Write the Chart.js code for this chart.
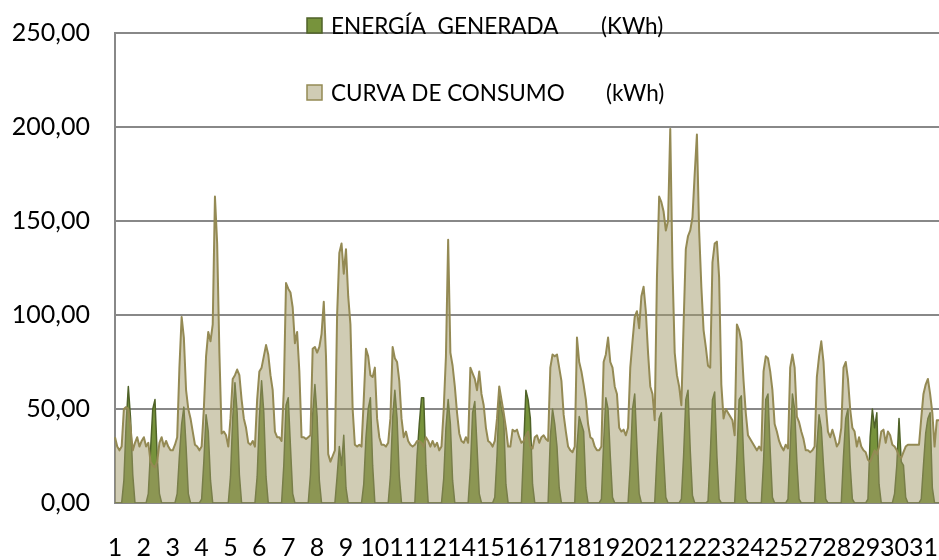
<!DOCTYPE html>
<html lang="es">
<head>
<meta charset="utf-8">
<title>Energía generada y curva de consumo</title>
<script src="https://cdn.jsdelivr.net/npm/chart.js@4.4.1/dist/chart.umd.min.js"></script>
<style>
  html, body { margin: 0; padding: 0; background: #fff; }
  #contenedor { position: relative; width: 939px; height: 560px; }
</style>
</head>
<body>
<div id="contenedor"><canvas id="grafico"></canvas></div>
<script>
// días del mes y horas leídas (cada 2 horas)
const dias = Array.from({ length: 31 }, (_, i) => i + 1);
const horas = [0, 2, 4, 6, 8, 10, 12, 14, 16, 18, 20, 22];

// ENERGÍA GENERADA (KWh), una fila por día
const generada = [
  [0, 0, 0, 0, 12, 42, 62, 45, 15, 0, 0, 0],
  [0, 0, 0, 5, 28, 50, 55, 25, 5, 0, 0, 0],
  [0, 0, 0, 0, 5, 25, 42, 51, 30, 5, 0, 0],
  [0, 0, 0, 2, 22, 47, 38, 12, 0, 0, 0, 0],
  [0, 0, 0, 0, 14, 45, 64, 48, 15, 0, 0, 0],
  [0, 0, 0, 0, 14, 45, 65, 48, 14, 0, 0, 0],
  [0, 0, 0, 0, 20, 52, 56, 30, 5, 0, 0, 0],
  [0, 0, 0, 0, 15, 47, 63, 46, 12, 0, 0, 0],
  [0, 0, 0, 0, 14, 30, 20, 36, 8, 0, 0, 0],
  [0, 0, 0, 0, 10, 35, 50, 56, 20, 0, 0, 0],
  [0, 0, 0, 0, 14, 45, 60, 45, 14, 0, 0, 0],
  [0, 0, 0, 0, 25, 42, 56, 56, 20, 0, 0, 0],
  [0, 0, 0, 0, 13, 40, 55, 42, 12, 0, 0, 0],
  [0, 0, 0, 0, 18, 48, 54, 30, 5, 0, 0, 0],
  [0, 0, 0, 3, 25, 57, 50, 45, 10, 0, 0, 0],
  [0, 0, 0, 0, 30, 60, 55, 45, 10, 0, 0, 0],
  [0, 0, 0, 0, 35, 50, 42, 30, 8, 0, 0, 0],
  [0, 0, 0, 0, 30, 46, 42, 38, 8, 0, 0, 0],
  [0, 0, 0, 2, 32, 56, 50, 25, 3, 0, 0, 0],
  [0, 0, 0, 0, 20, 50, 58, 30, 5, 0, 0, 0],
  [0, 0, 0, 0, 25, 45, 48, 25, 3, 0, 0, 0],
  [0, 0, 0, 2, 25, 55, 60, 28, 4, 0, 0, 0],
  [0, 0, 0, 1, 25, 55, 59, 25, 2, 0, 0, 0],
  [0, 0, 0, 0, 25, 55, 57, 25, 2, 0, 0, 0],
  [0, 0, 0, 0, 22, 55, 58, 28, 3, 0, 0, 0],
  [0, 0, 0, 2, 30, 58, 50, 22, 2, 0, 0, 0],
  [0, 0, 0, 0, 30, 47, 40, 20, 2, 0, 0, 0],
  [0, 0, 0, 0, 25, 45, 50, 20, 2, 0, 0, 0],
  [0, 0, 0, 2, 35, 50, 40, 48, 10, 0, 0, 0],
  [0, 0, 0, 5, 20, 45, 22, 20, 3, 0, 0, 0],
  [0, 0, 0, 2, 20, 37, 45, 48, 8, 0, 0, 0]
];

// CURVA DE CONSUMO (kWh), una fila por día
const consumo = [
  [35, 30, 28, 30, 50, 51, 50, 40, 28, 32, 35, 30],
  [33, 35, 30, 32, 22, 20, 19, 22, 32, 35, 30, 33],
  [30, 28, 28, 31, 35, 72, 99, 88, 60, 50, 45, 38],
  [31, 30, 28, 30, 50, 78, 91, 86, 95, 163, 138, 80],
  [37, 38, 36, 30, 45, 66, 68, 71, 68, 55, 45, 40],
  [32, 31, 33, 30, 55, 70, 72, 78, 84, 79, 68, 60],
  [38, 35, 35, 33, 60, 117, 114, 112, 104, 85, 91, 70],
  [35, 35, 34, 35, 36, 82, 83, 80, 83, 90, 107, 78],
  [26, 22, 25, 28, 100, 133, 138, 122, 135, 110, 95, 50],
  [31, 30, 31, 30, 55, 82, 78, 68, 67, 72, 45, 35],
  [31, 31, 30, 32, 45, 83, 77, 75, 65, 45, 35, 38],
  [33, 31, 30, 31, 33, 33, 32, 30, 35, 33, 30, 33],
  [30, 32, 28, 30, 50, 78, 140, 80, 73, 62, 48, 37],
  [33, 32, 35, 32, 72, 69, 66, 60, 70, 58, 52, 40],
  [33, 32, 30, 33, 45, 62, 55, 48, 40, 30, 30, 39],
  [38, 39, 35, 32, 33, 36, 38, 30, 29, 35, 36, 32],
  [35, 36, 34, 33, 72, 79, 78, 79, 72, 65, 47, 38],
  [30, 28, 27, 30, 88, 75, 70, 63, 55, 42, 35, 34],
  [30, 28, 28, 30, 75, 79, 88, 75, 72, 62, 58, 40],
  [38, 39, 36, 40, 72, 86, 99, 102, 93, 110, 115, 102],
  [80, 62, 58, 44, 120, 163, 160, 155, 145, 150, 199, 125],
  [80, 68, 62, 52, 95, 135, 142, 145, 152, 175, 196, 145],
  [115, 92, 83, 73, 72, 128, 138, 139, 120, 63, 45, 50],
  [48, 46, 44, 36, 95, 92, 86, 65, 48, 36, 34, 32],
  [30, 28, 30, 28, 70, 78, 77, 70, 60, 42, 38, 33],
  [30, 28, 31, 29, 72, 79, 72, 46, 43, 38, 34, 28],
  [28, 27, 28, 30, 67, 78, 86, 75, 52, 38, 35, 39],
  [35, 30, 32, 40, 72, 75, 66, 50, 40, 38, 30, 35],
  [30, 28, 27, 23, 22, 25, 28, 26, 30, 38, 39, 32],
  [38, 36, 31, 30, 28, 25, 24, 27, 30, 31, 31, 31],
  [31, 31, 31, 45, 58, 63, 66, 58, 48, 30, 44, 44]
];

const nombresSeries = ["ENERGÍA  GENERADA", "CURVA DE CONSUMO"];
const unidades = ["(KWh)", "(kWh)"];

// Excel pone una etiqueta cada 26 horas (13 puntos), por eso faltan el 13 y el 26
const intervaloEtiquetas = 13;

const etiquetas = dias.flatMap((d) => horas.map(() => String(d)));
const datosGenerada = generada.flat();
const datosConsumo = consumo.flat();

Chart.defaults.font.family = "Lato, 'DejaVu Sans', sans-serif";
Chart.defaults.color = "#000";

// leyenda dibujada a mano dentro del grafico, como en el original
const leyenda = {
  id: "leyenda",
  afterDraw(chart) {
    const ctx = chart.ctx;
    const filas = [34, 101];
    ctx.save();
    ctx.font = "22.5px Lato";
    ctx.textBaseline = "alphabetic";
    chart.data.datasets.forEach((ds, i) => {
      const y = filas[i];
      ctx.fillStyle = "#fff";
      ctx.fillRect(307, y - 16, 15, 15);
      ctx.fillStyle = ds.backgroundColor;
      ctx.fillRect(307, y - 16, 15, 15);
      ctx.strokeStyle = ds.borderColor;
      ctx.lineWidth = 1.5;
      ctx.strokeRect(307, y - 16, 15, 15);
      ctx.fillStyle = "#000";
      ctx.fillText(nombresSeries[i], 331, y);
      ctx.fillText(unidades[i], i === 0 ? 601 : 606, y);
    });
    ctx.restore();
  },
};

new Chart(document.getElementById("grafico"), {
  type: "line",
  data: {
    labels: etiquetas,
    datasets: [
      {
        label: nombresSeries[0] + " " + unidades[0],
        data: datosGenerada,
        order: 1, // debajo del consumo
        fill: "origin",
        backgroundColor: "#77933C",
        borderColor: "#4F6228",
        borderWidth: 1.5,
        borderJoinStyle: "round",
        pointRadius: 0,
        tension: 0,
      },
      {
        label: nombresSeries[1] + " " + unidades[1],
        data: datosConsumo,
        order: 0,
        fill: "origin",
        backgroundColor: "rgba(161, 153, 105, 0.5)",
        borderColor: "#948A54",
        borderWidth: 2,
        borderJoinStyle: "round",
        pointRadius: 0,
        tension: 0,
      },
    ],
  },
  options: {
    responsive: true,
    maintainAspectRatio: false,
    animation: false,
    devicePixelRatio: 1,
    layout: { padding: { top: 33, right: 0, bottom: 0, left: 0 }, autoPadding: false },
    plugins: {
      legend: { display: false },
      tooltip: { enabled: false },
    },
    scales: {
      x: {
        // la separacion de las etiquetas va en tickLength (padding suma margen a la derecha)
        grid: { display: false, drawTicks: true, tickLength: 30 },
        border: { display: true, color: "#888", width: 2 },
        ticks: {
          autoSkip: false,
          maxRotation: 0,
          minRotation: 0,
          padding: 0,
          font: { size: 25 },
          callback: (value, index) =>
            index % intervaloEtiquetas === 0 ? etiquetas[index] : "",
        },
        afterFit: (scale) => {
          scale.height = 57;
        },
      },
      y: {
        min: 0,
        max: 250,
        grid: {
          color: "#888",
          lineWidth: 2,
          drawTicks: true,
          tickLength: 25,
          tickColor: "rgba(0, 0, 0, 0)",
        },
        border: { display: true, color: "#888", width: 2 },
        ticks: {
          stepSize: 50,
          padding: 0,
          font: { size: 25 },
          callback: (value) => value.toFixed(2).replace(".", ","),
        },
        afterFit: (scale) => {
          scale.width = 115;
        },
      },
    },
  },
  plugins: [leyenda],
});
</script>
</body>
</html>
